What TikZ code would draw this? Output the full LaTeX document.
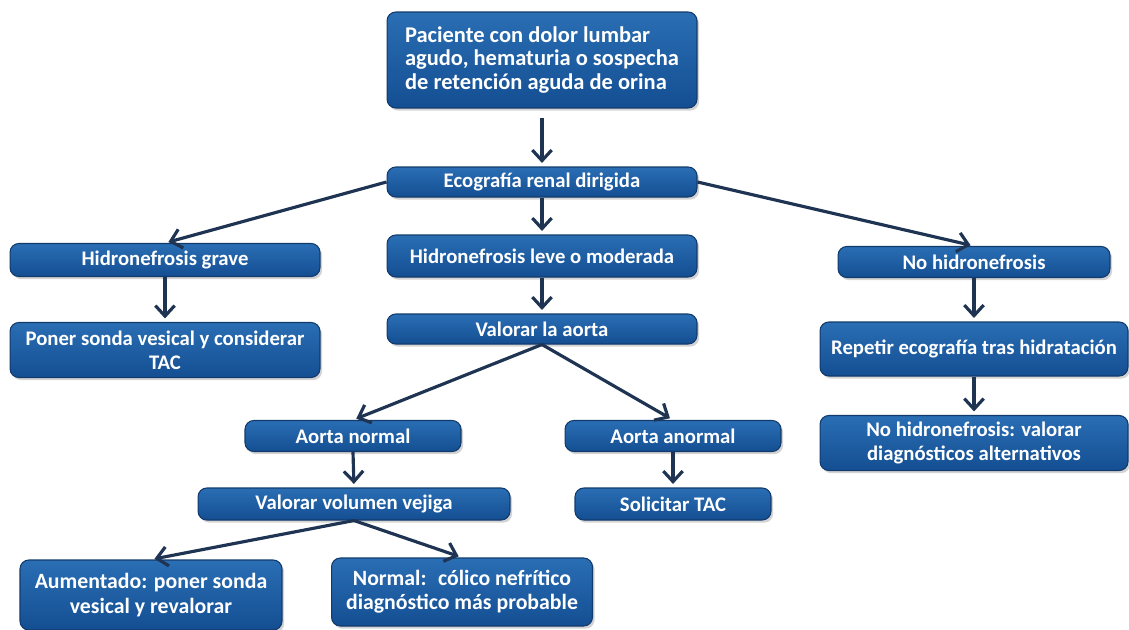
\documentclass[tikz,border=0pt]{standalone}
\usepackage{fontspec}
\setmainfont{Carlito}
\usetikzlibrary{arrows.meta,shadows}
\definecolor{boxTop}{RGB}{42,110,180}
\definecolor{boxBottom}{RGB}{20,78,146}
\definecolor{boxEdge}{RGB}{18,58,108}
\definecolor{arrowNavy}{RGB}{30,52,82}
\tikzset{
  flowBox/.style={rounded corners=5pt,draw=boxEdge,line width=0.6pt,top color=boxTop,bottom color=boxBottom,
    text=white,font=\bfseries\fontsize{11.8}{13.6}\selectfont,align=center,inner sep=2pt,
    drop shadow={opacity=0.35,shadow xshift=1.2pt,shadow yshift=-1.5pt}},
  flowArrow/.style={draw=arrowNavy,line width=1.8pt,-{Straight Barb[length=6pt,width=11pt]},shorten >=2pt}
}
\begin{document}
\begin{tikzpicture}[x=0.02cm,y=-0.02cm]
\useasboundingbox (0,0) rectangle (1129,629);
% first level
\node[flowBox,minimum width=6.2cm,minimum height=1.92cm,align=left,font=\bfseries\fontsize{12.8}{13.1}\selectfont] (paciente) at (542,60)
  {Paciente con dolor lumbar\\agudo, hematuria o sospecha\\de retención aguda de orina};
\node[flowBox,minimum width=6.2cm,minimum height=0.6cm] (ecografia) at (542,182) {Ecografía renal dirigida};
% three branches
\node[flowBox,minimum width=6.2cm,minimum height=0.66cm] (grave) at (165,260) {Hidronefrosis grave};
\node[flowBox,minimum width=6.2cm,minimum height=0.84cm] (leve) at (542,256) {Hidronefrosis leve o moderada};
\node[flowBox,minimum width=5.44cm,minimum height=0.62cm] (nohidro) at (974,262) {No hidronefrosis};
\node[flowBox,minimum width=6.2cm,minimum height=1.1cm] (sonda) at (165,350) {Poner sonda vesical y considerar\\TAC};
\node[flowBox,minimum width=6.2cm,minimum height=0.6cm] (aorta) at (542,329) {Valorar la aorta};
\node[flowBox,minimum width=6.16cm,minimum height=1.08cm] (repetir) at (974,349) {Repetir ecografía tras hidratación};
% aorta
\node[flowBox,minimum width=4.32cm,minimum height=0.62cm] (aortanormal) at (353,436) {Aorta normal};
\node[flowBox,minimum width=4.32cm,minimum height=0.62cm] (aortaanormal) at (673,436) {Aorta anormal};
\node[flowBox,minimum width=6.16cm,minimum height=1.1cm] (alternativos) at (974,443) {No hidronefrosis: valorar\\diagnósticos alternativos};
\node[flowBox,minimum width=6.24cm,minimum height=0.64cm] (vejiga) at (354,504) {Valorar volumen vejiga};
\node[flowBox,minimum width=3.92cm,minimum height=0.64cm] (tac) at (673,504) {Solicitar TAC};
% bladder
\node[flowBox,minimum width=5.24cm,minimum height=1.4cm,font=\bfseries\fontsize{12.4}{13.8}\selectfont] (aumentado) at (151,595) {Aumentado: poner sonda\\vesical y revalorar};
\node[flowBox,minimum width=5.22cm,minimum height=1.36cm,font=\bfseries\fontsize{12.4}{13.8}\selectfont] (colico) at (462,592) {Normal:~ cólico nefrítico\\diagnóstico más probable};
% arrows
\draw[flowArrow,shorten <=5.5pt] (paciente.south) -- (ecografia.north);
\draw[flowArrow] (ecografia.west) -- (grave.north);
\draw[flowArrow] (ecografia.south) -- (leve.north);
\draw[flowArrow] (ecografia.east) -- (nohidro.north);
\draw[flowArrow] (grave.south) -- (sonda.north);
\draw[flowArrow] (leve.south) -- (aorta.north);
\draw[flowArrow] (nohidro.south) -- (repetir.north);
\draw[flowArrow] (aorta.south) -- (aortanormal.north);
\draw[flowArrow] (aorta.south) -- (aortaanormal.north);
\draw[flowArrow] (repetir.south) -- (alternativos.north);
\draw[flowArrow] (aortanormal.south) -- (vejiga.north);
\draw[flowArrow] (aortaanormal.south) -- (tac.north);
\draw[flowArrow] (vejiga.south) -- (aumentado.north);
\draw[flowArrow] (vejiga.south) -- (colico.north);
\end{tikzpicture}
\end{document}
